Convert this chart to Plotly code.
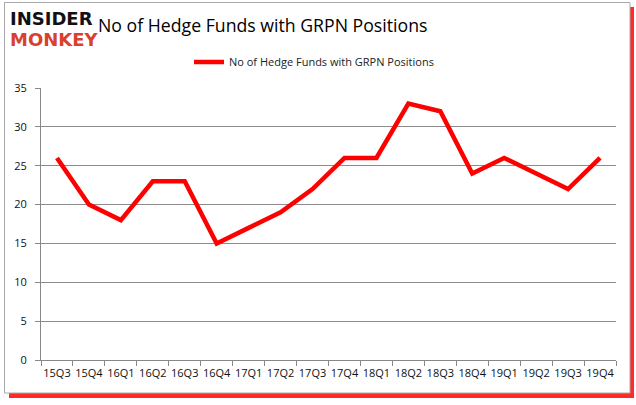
import plotly.graph_objects as go

quarters = ["15Q3", "15Q4", "16Q1", "16Q2", "16Q3", "16Q4", "17Q1", "17Q2", "17Q3",
            "17Q4", "18Q1", "18Q2", "18Q3", "18Q4", "19Q1", "19Q2", "19Q3", "19Q4"]
funds = [26, 20, 18, 23, 23, 15, 17, 19, 22, 26, 26, 33, 32, 24, 26, 24, 22, 26]
series_name = "No of Hedge Funds with GRPN Positions"
title_text = "No of Hedge Funds with GRPN Positions"

W, H = 636, 405
L, R, T, B = 41, 20, 88, 45
pw, ph = W - L - R, H - T - B


def px(x):
    return (x - L) / pw


def py(y):
    return (H - B - y) / ph


fig = go.Figure()
fig.add_trace(go.Scatter(
    x=quarters, y=funds, mode="lines", name=series_name,
    line=dict(color="#ff0000", width=4.5),
))

shapes = [
    # red shadow
    dict(type="rect", xref="paper", yref="paper",
         x0=px(9), x1=px(634), y0=py(7), y1=py(398),
         fillcolor="rgba(255,20,20,0.9)", line=dict(width=0), layer="below"),
    # white frame
    dict(type="rect", xref="paper", yref="paper",
         x0=px(4.5), x1=px(630), y0=py(2.5), y1=py(393),
         fillcolor="white", line=dict(color="#a8a8a8", width=1), layer="below"),
]

annotations = [
    dict(text="<b>INSIDER</b>", xref="paper", yref="paper", x=px(8), y=py(18),
         xanchor="left", yanchor="middle", showarrow=False,
         font=dict(family="DejaVu Sans", size=18, color="#111111")),
    dict(text="<b>MONKEY</b>", xref="paper", yref="paper", x=px(8), y=py(40),
         xanchor="left", yanchor="middle", showarrow=False,
         font=dict(family="DejaVu Sans", size=18, color="#d9402e")),
    dict(text=title_text, xref="paper", yref="paper", x=px(96), y=py(25),
         xanchor="left", yanchor="middle", showarrow=False,
         font=dict(family="Open Sans", size=17.7, color="#000000")),
]

fig.update_layout(
    width=W, height=H,
    margin=dict(l=L, r=R, t=T, b=B),
    paper_bgcolor="white", plot_bgcolor="white",
    shapes=shapes, annotations=annotations,
    showlegend=True,
    legend=dict(orientation="h", x=px(314), y=py(62), xanchor="center", yanchor="middle",
                font=dict(family="Open Sans", size=11, color="#222222"),
                bgcolor="rgba(0,0,0,0)", itemwidth=30),
    xaxis=dict(type="category", showgrid=False, showline=True, linecolor="#888888",
               linewidth=1, ticks="outside", tickson="boundaries", ticklen=5,
               tickcolor="#888888", tickangle=0, ticklabelstandoff=3,
               tickfont=dict(family="Open Sans", size=11, color="#111111"),
               range=[-0.5, len(quarters) - 0.5]),
    yaxis=dict(range=[0, 35], dtick=5, showgrid=True, gridcolor="#8c8c8c", gridwidth=1,
               showline=True, linecolor="#888888", linewidth=1, zeroline=False,
               ticks="outside", ticklen=5, tickcolor="#888888", ticklabelstandoff=6,
               tickfont=dict(family="Open Sans", size=11, color="#111111")),
)

fig.write_html("out.html", config={"displayModeBar": False},
               post_script="document.body.style.margin='0px';")
